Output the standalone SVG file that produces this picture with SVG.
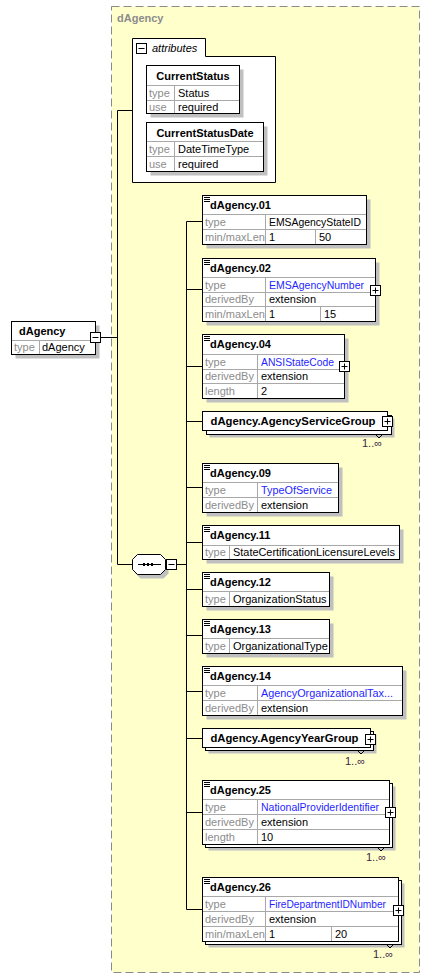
<svg xmlns="http://www.w3.org/2000/svg" width="431" height="979" viewBox="0 0 431 979">
<style>
text{font-family:"Liberation Sans",Arial,sans-serif;font-size:11px;fill:#000}
.t{font-weight:bold}
.g{fill:#8c8c8c}
.b{fill:#1f1fff}
.o{fill:#3c1e46}
.box{fill:#fff;stroke:#000;stroke-width:1}
.sh{fill:#c0c0c0}
.rl{stroke:#a8a8a8;stroke-width:1;fill:none}
.ln{stroke:#000;stroke-width:1;fill:none}
.ic{stroke:#000;stroke-width:1;fill:none}
</style>
<defs>
<g id="plus"><rect class="box" x="0" y="0" width="10" height="10"/><path class="ln" d="M2,5H8M5,2V8"/></g>
<g id="minus"><rect class="box" x="0" y="0" width="10" height="10"/><path class="ln" d="M2,5H8"/></g>
<path id="icon" class="ic" d="M1.5,2H7.5M1.5,4H7.5M1.5,6H7.5"/>
</defs>
<rect x="111.5" y="6.5" width="308" height="966" fill="#ffffcc" stroke="#8a8a8a" stroke-dasharray="8,4"/>
<text x="117" y="22" class="t g">dAgency</text>

<g id="connectors">
<path class="ln" d="M100.5,337.5H117.5M117.5,110.5V564.5M117.5,110.5H132.5M117.5,564.5H132.5M176.5,564.5H186.5M186.5,221.5V909.5M186.5,221.5H202.5M186.5,289.5H202.5M186.5,366.5H202.5M186.5,421.5H202.5M186.5,487.5H202.5M186.5,542.5H202.5M186.5,589.5H202.5M186.5,635.5H202.5M186.5,691.5H202.5M186.5,738.5H202.5M186.5,812.5H202.5M186.5,909.5H202.5"/>
</g>

<g id="attributes">
<path d="M132.5,38.5H205.5V56.5H275.5V182.5H132.5Z" fill="#fff" stroke="#000"/>
<use href="#minus" x="136.5" y="43.5"/>
<text x="152" y="52" font-style="italic">attributes</text>
</g>

<g id="CurrentStatus">
<rect class="sh" x="150.5" y="69.5" width="93" height="48"/>
<rect class="box" x="146.5" y="65.5" width="93" height="48"/>
<path class="rl" d="M147,85.5H239M147,100.5H239M174.5,86V113"/>
<text x="193" y="80" class="t" text-anchor="middle">CurrentStatus</text>
<text x="149" y="97" class="g">type</text><text x="178" y="97">Status</text>
<text x="149" y="111" class="g">use</text><text x="178" y="111">required</text>
</g>

<g id="CurrentStatusDate">
<rect class="sh" x="150.5" y="126.5" width="117" height="49"/>
<rect class="box" x="146.5" y="122.5" width="117" height="49"/>
<path class="rl" d="M147,141.5H263M147,156.5H263M174.5,142V171"/>
<text x="205" y="137" class="t" text-anchor="middle">CurrentStatusDate</text>
<text x="149" y="153" class="g">type</text><text x="178" y="153">DateTimeType</text>
<text x="149" y="168" class="g">use</text><text x="178" y="168">required</text>
</g>

<g id="dAgency">
<rect class="sh" x="15.5" y="325.5" width="84" height="33"/>
<rect class="box" x="11.5" y="321.5" width="84" height="33"/>
<path class="rl" d="M12,340.5H95M39.5,341V354"/>
<text x="19" y="335" class="t">dAgency</text>
<text x="14" y="351" class="g">type</text><text x="42" y="351">dAgency</text>
<use href="#minus" x="90.5" y="332.5"/>
</g>

<g id="sequence">
<polygon class="sh" points="140.5,558.5 163.5,558.5 168.5,563.5 168.5,573.5 163.5,578.5 140.5,578.5 135.5,573.5 135.5,563.5"/>
<polygon class="box" points="137.5,554.5 160.5,554.5 165.5,559.5 165.5,569.5 160.5,574.5 137.5,574.5 132.5,569.5 132.5,559.5"/>
<path class="ln" d="M138,564.5H161"/>
<rect x="143" y="563" width="2" height="3"/><rect x="147" y="563" width="2" height="3"/><rect x="151" y="563" width="2" height="3"/>
<use href="#minus" x="166.5" y="559.5"/>
</g>

<g id="dAgency.01">
<rect class="sh" x="206.5" y="199.5" width="164" height="49"/>
<rect class="box" x="202.5" y="195.5" width="164" height="49"/>
<use href="#icon" x="202.5" y="195.5"/>
<path class="rl" d="M203,214.5H366M203,229.5H366M265.5,215V244M315.5,230V244"/>
<text x="210" y="209" class="t">dAgency.01</text>
<text x="205" y="226" class="g">type</text><text x="269" y="226" textLength="92" lengthAdjust="spacingAndGlyphs">EMSAgencyStateID</text>
<text x="205" y="241" class="g">min/maxLen</text><text x="269" y="241">1</text><text x="319" y="241">50</text>
</g>

<g id="dAgency.02">
<rect class="sh" x="206.5" y="262.5" width="173" height="63"/>
<rect class="box" x="202.5" y="258.5" width="173" height="63"/>
<use href="#icon" x="202.5" y="258.5"/>
<path class="rl" d="M203,277.5H375M203,292.5H375M203,306.5H375M265.5,278V321M320.5,307V321"/>
<text x="210" y="272" class="t">dAgency.02</text>
<text x="205" y="289" class="g">type</text><text x="269" y="289" class="b" textLength="95" lengthAdjust="spacingAndGlyphs">EMSAgencyNumber</text>
<text x="205" y="303" class="g">derivedBy</text><text x="269" y="303">extension</text>
<text x="205" y="318" class="g">min/maxLen</text><text x="269" y="318">1</text><text x="324" y="318">15</text>
<use href="#plus" x="370.5" y="285.5"/>
</g>

<g id="dAgency.04">
<rect class="sh" x="206.5" y="338.5" width="142" height="64"/>
<rect class="box" x="202.5" y="334.5" width="142" height="64"/>
<use href="#icon" x="202.5" y="334.5"/>
<path class="rl" d="M203,354.5H344M203,369.5H344M203,383.5H344M257.5,355V398"/>
<text x="210" y="348" class="t">dAgency.04</text>
<text x="205" y="366" class="g">type</text><text x="261" y="366" class="b" textLength="73" lengthAdjust="spacingAndGlyphs">ANSIStateCode</text>
<text x="205" y="380" class="g">derivedBy</text><text x="261" y="380">extension</text>
<text x="205" y="395" class="g">length</text><text x="261" y="395">2</text>
<use href="#plus" x="339.5" y="361.5"/>
</g>

<g id="dAgency.AgencyServiceGroup">
<rect class="sh" x="209.5" y="418.5" width="185" height="19"/>
<rect class="box" x="206.5" y="415.5" width="185" height="19"/>
<rect class="box" x="202.5" y="411.5" width="185" height="19"/>
<text x="210.5" y="425" class="t" textLength="165" lengthAdjust="spacingAndGlyphs">dAgency.AgencyServiceGroup</text>
<use href="#plus" x="382.5" y="416.5"/>
<polyline class="ln" points="375.5,434.5 379,438 382.5,434.5"/>
<text x="362" y="447" class="o">1..∞</text>
</g>

<g id="dAgency.09">
<rect class="sh" x="206.5" y="467.5" width="136" height="49"/>
<rect class="box" x="202.5" y="463.5" width="136" height="49"/>
<use href="#icon" x="202.5" y="463.5"/>
<path class="rl" d="M203,482.5H338M203,497.5H338M257.5,483V512"/>
<text x="210" y="477" class="t">dAgency.09</text>
<text x="205" y="494" class="g">type</text><text x="261" y="494" class="b" textLength="71" lengthAdjust="spacingAndGlyphs">TypeOfService</text>
<text x="205" y="509" class="g">derivedBy</text><text x="261" y="509">extension</text>
</g>

<g id="dAgency.11">
<rect class="sh" x="206.5" y="529.5" width="197" height="34"/>
<rect class="box" x="202.5" y="525.5" width="197" height="34"/>
<use href="#icon" x="202.5" y="525.5"/>
<path class="rl" d="M203,545.5H399M229.5,546V559"/>
<text x="210" y="539" class="t">dAgency.11</text>
<text x="205" y="556" class="g">type</text><text x="233" y="556" textLength="162" lengthAdjust="spacingAndGlyphs">StateCertificationLicensureLevels</text>
</g>

<g id="dAgency.12">
<rect class="sh" x="206.5" y="576.5" width="127" height="34"/>
<rect class="box" x="202.5" y="572.5" width="127" height="34"/>
<use href="#icon" x="202.5" y="572.5"/>
<path class="rl" d="M203,591.5H329M229.5,592V606"/>
<text x="210" y="586" class="t">dAgency.12</text>
<text x="205" y="603" class="g">type</text><text x="233" y="603">OrganizationStatus</text>
</g>

<g id="dAgency.13">
<rect class="sh" x="206.5" y="623.5" width="127" height="34"/>
<rect class="box" x="202.5" y="619.5" width="127" height="34"/>
<use href="#icon" x="202.5" y="619.5"/>
<path class="rl" d="M203,638.5H329M229.5,639V653"/>
<text x="210" y="633" class="t">dAgency.13</text>
<text x="205" y="650" class="g">type</text><text x="233" y="650">OrganizationalType</text>
</g>

<g id="dAgency.14">
<rect class="sh" x="206.5" y="670.5" width="200" height="49"/>
<rect class="box" x="202.5" y="666.5" width="200" height="49"/>
<use href="#icon" x="202.5" y="666.5"/>
<path class="rl" d="M203,685.5H402M203,700.5H402M257.5,686V715"/>
<text x="210" y="680" class="t">dAgency.14</text>
<text x="205" y="697" class="g">type</text><text x="261" y="697" class="b" textLength="132" lengthAdjust="spacingAndGlyphs">AgencyOrganizationalTax...</text>
<text x="205" y="712" class="g">derivedBy</text><text x="261" y="712">extension</text>
</g>

<g id="dAgency.AgencyYearGroup">
<rect class="sh" x="208.5" y="734.5" width="168" height="19"/>
<rect class="box" x="205.5" y="731.5" width="168" height="19"/>
<rect class="box" x="202.5" y="728.5" width="168" height="19"/>
<text x="210.5" y="742" class="t" textLength="148" lengthAdjust="spacingAndGlyphs">dAgency.AgencyYearGroup</text>
<use href="#plus" x="365.5" y="734.5"/>
<polyline class="ln" points="357.5,750.5 361,754 364.5,750.5"/>
<text x="345" y="765" class="o">1..∞</text>
</g>

<g id="dAgency.25">
<rect class="sh" x="208.5" y="786.5" width="187" height="64"/>
<rect class="box" x="205.5" y="783.5" width="187" height="64"/>
<rect class="box" x="202.5" y="780.5" width="187" height="64"/>
<use href="#icon" x="202.5" y="780.5"/>
<path class="rl" d="M203,799.5H389M203,814.5H389M203,829.5H389M257.5,800V844"/>
<text x="210" y="794" class="t">dAgency.25</text>
<text x="205" y="811" class="g">type</text><text x="261" y="811" class="b" textLength="118" lengthAdjust="spacingAndGlyphs">NationalProviderIdentifier</text>
<text x="205" y="826" class="g">derivedBy</text><text x="261" y="826">extension</text>
<text x="205" y="841" class="g">length</text><text x="261" y="841">10</text>
<use href="#plus" x="385.5" y="807.5"/>
<polyline class="ln" points="377.5,847.5 381,851 384.5,847.5"/>
<text x="366" y="861" class="o">1..∞</text>
</g>

<g id="dAgency.26">
<rect class="sh" x="208.5" y="883.5" width="196" height="64"/>
<rect class="box" x="205.5" y="880.5" width="196" height="64"/>
<rect class="box" x="202.5" y="877.5" width="196" height="64"/>
<use href="#icon" x="202.5" y="877.5"/>
<path class="rl" d="M203,896.5H398M203,911.5H398M203,926.5H398M265.5,897V941M331.5,927V941"/>
<text x="210" y="891" class="t">dAgency.26</text>
<text x="205" y="908" class="g">type</text><text x="269" y="908" class="b" textLength="117" lengthAdjust="spacingAndGlyphs">FireDepartmentIDNumber</text>
<text x="205" y="923" class="g">derivedBy</text><text x="269" y="923">extension</text>
<text x="205" y="938" class="g">min/maxLen</text><text x="269" y="938">1</text><text x="335" y="938">20</text>
<use href="#plus" x="393.5" y="905.5"/>
<polyline class="ln" points="386.5,944.5 390,948 393.5,944.5"/>
<text x="373" y="958" class="o">1..∞</text>
</g>
</svg>
